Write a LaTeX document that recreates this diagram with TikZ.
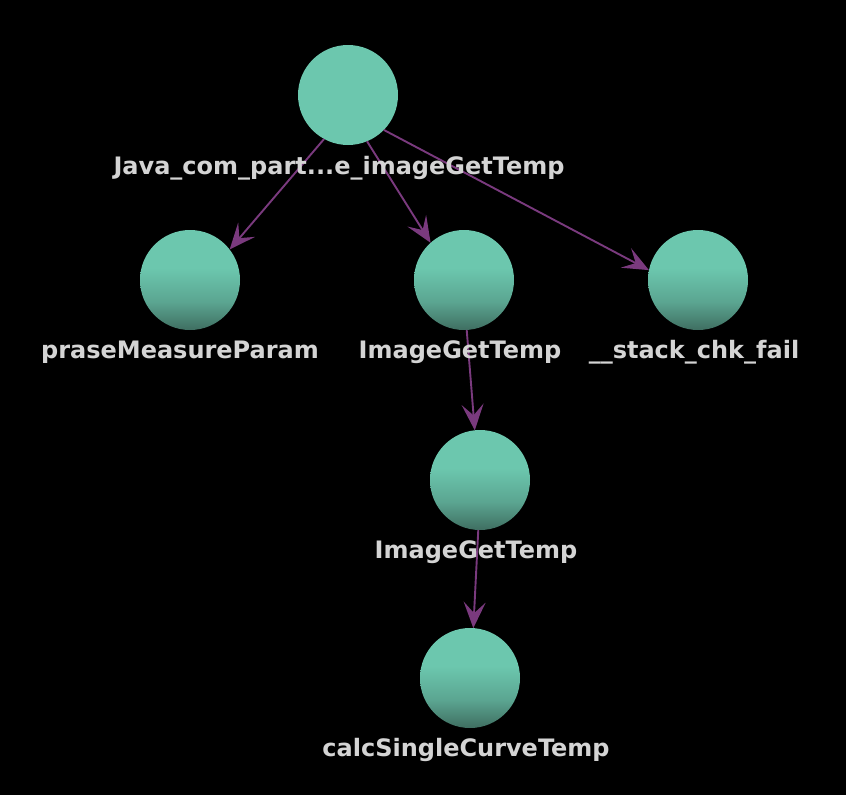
\documentclass[tikz,border=0pt]{standalone}
\usepackage{fontspec}
\setmainfont{DejaVu Sans}
\usetikzlibrary{arrows.meta,intersections,calc}
\definecolor{tealA}{HTML}{6CC7AE}
\definecolor{tealB}{HTML}{3F6E61}
\colorlet{tealM}{tealA!62!tealB}
\definecolor{edgec}{HTML}{7A3A7E}
\definecolor{labc}{HTML}{D4D4D4}
\pgfdeclareverticalshading{nodeshade}{100bp}{color(0bp)=(tealB); color(25bp)=(tealB); color(39bp)=(tealM); color(56bp)=(tealA); color(100bp)=(tealA)}
\begin{document}
\begin{tikzpicture}[x=1pt,y=-1pt,
  flatnode/.style={circle, minimum size=100pt, inner sep=0pt, fill=tealA},
  gnode/.style={circle, minimum size=100pt, inner sep=0pt, shading=nodeshade},
  edge/.style={draw=edgec, line width=1.9pt, -{Stealth[length=26pt,width=22pt,inset=11pt]}},
  lab/.style={text=labc, anchor=base, inner sep=0pt, font=\bfseries\fontsize{24}{28}\selectfont}]
\fill[black] (0,0) rectangle (846,795);
\useasboundingbox (0,0) rectangle (846,795);
\node[flatnode] (j) at (348,95) {};
\node[gnode] (p) at (190,280) {};
\node[gnode] (i1) at (464,280) {};
\node[gnode] (s) at (698,280) {};
\node[gnode] (i2) at (480,480) {};
\node[gnode] (c) at (470,678) {};
% edge anchor points (slightly below centres)
\coordinate (oj) at ($(j)+(0,16)$);
\coordinate (op) at ($(p)+(0,16)$);
\coordinate (oi1) at ($(i1)+(0,16)$);
\coordinate (os) at ($(s)+(0,16)$);
\coordinate (oi2) at ($(i2)+(0,16)$);
\coordinate (oc) at ($(c)+(0,16)$);
\path[name path=Cj] (j) circle[radius=50];
\path[name path=Cp] (p) circle[radius=50];
\path[name path=Ci1] (i1) circle[radius=50];
\path[name path=Cs] (s) circle[radius=50];
\path[name path=Ci2] (i2) circle[radius=50];
\path[name path=Cc] (c) circle[radius=50];
\path[name path=Ljp] (oj) -- (op);
\path[name path=Lji] (oj) -- (oi1);
\path[name path=Ljs] (oj) -- (os);
\path[name path=Lii] (oi1) -- (oi2);
\path[name path=Lic] (oi2) -- (oc);
\path[name intersections={of=Cj and Ljp, by=bjp}];
\path[name intersections={of=Cp and Ljp, by=ejp}];
\path[name intersections={of=Cj and Lji, by=bji}];
\path[name intersections={of=Ci1 and Lji, by=eji}];
\path[name intersections={of=Cj and Ljs, by=bjs}];
\path[name intersections={of=Cs and Ljs, by=ejs}];
\path[name intersections={of=Ci1 and Lii, by=bii}];
\path[name intersections={of=Ci2 and Lii, by=eii}];
\path[name intersections={of=Ci2 and Lic, by=bic}];
\path[name intersections={of=Cc and Lic, by=eic}];
\draw[edge] (bjp) -- (ejp);
\draw[edge] (bji) -- (eji);
\draw[edge] (bjs) -- (ejs);
\draw[edge] (bii) -- (eii);
\draw[edge] (bic) -- (eic);
\node[lab] (lj) at (339,174) {Java\_com\_part...e\_imageGetTemp};
\node[lab] (lp) at (180,358) {praseMeasureParam};
\node[lab] (li1) at (460,358) {ImageGetTemp};
\node[lab] (ls) at (694,358) {\_\_stack\_chk\_fail};
\node[lab] (li2) at (476,558) {ImageGetTemp};
\node[lab] (lc) at (466,756) {calcSingleCurveTemp};
\end{tikzpicture}
\end{document}
